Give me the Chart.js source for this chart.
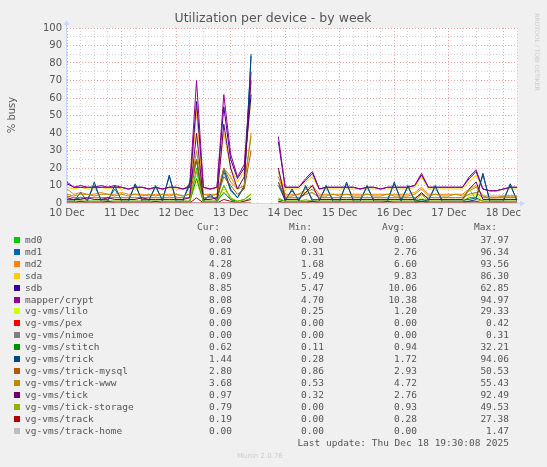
<!DOCTYPE html>
<html><head><meta charset="utf-8">
<script src="https://cdn.jsdelivr.net/npm/chart.js@4"></script>
<style>
body{margin:0;background:#f0f0f0;width:547px;height:467px;overflow:hidden;position:relative;font-family:'DejaVu Sans Mono',monospace;}
#wrap{position:absolute;left:0;top:0;width:547px;height:225px;}
.t{position:absolute;font-size:9.5px;color:#555;white-space:pre;line-height:12px;}
.r{text-align:right;}
.sq{position:absolute;width:6px;height:6px;}
</style></head><body>
<div id="wrap"><canvas id="c" width="547" height="225"></canvas></div>
<div id="leg"></div>
<script>
// sample times: days after 10 Dec 00:00, every 3 hours
const step = 0.125;
const names = ["md0","md1","md2","sda","sdb","mapper/crypt","vg-vms/lilo","vg-vms/pex","vg-vms/nimoe","vg-vms/stitch","vg-vms/trick","vg-vms/trick-mysql","vg-vms/trick-www","vg-vms/tick","vg-vms/tick-storage","vg-vms/track","vg-vms/track-home"];
const colors = ["#00CC00","#0066B3","#FF8000","#FFCC00","#330099","#990099","#CCFF00","#FF0000","#808080","#008F00","#00487D","#B35A00","#B38F00","#6B006B","#8FB300","#B30000","#BEBEBE"];
const curV = ["0.00","0.81","4.28","8.09","8.85","8.08","0.69","0.00","0.00","0.62","1.44","2.80","3.68","0.97","0.79","0.19","0.00"];
const minV = ["0.00","0.31","1.68","5.49","5.47","4.70","0.25","0.00","0.00","0.11","0.28","0.86","0.53","0.32","0.00","0.00","0.00"];
const avgV = ["0.06","2.76","6.60","9.83","10.06","10.38","1.20","0.00","0.00","0.94","1.72","2.93","4.72","2.76","0.93","0.28","0.00"];
const maxV = ["37.97","96.34","93.56","86.30","62.85","94.97","29.33","0.42","0.31","32.21","94.06","50.53","55.43","92.49","49.53","27.38","1.47"];
const dayLabels = ["10 Dec","11 Dec","12 Dec","13 Dec","14 Dec","15 Dec","16 Dec","17 Dec","18 Dec"];
const N=null;
const md0=[0,0,0,0,0,0,0,0,0,0, 0,0,0,0,0,0,0,0,0,20, 0,0,0,10,2,0,1,3,N,N, N,1,0,0,0,0,0,0,0,0, 0,0,0,0,0,0,0,0,0,0, 0,0,0,0,0,0,0,0,0,0, 0,0,0,0,0,0,0];
const md1=[2,2,3,2,10,2,2,8,2,2, 10,2,2,9,2,15,2,2,10,24, 2,4,2,18,7,3,9,84,N,N, N,10,2,7,2,9,2,2,9,2, 2,11,2,2,9,2,2,2,11,2, 9,2,2,2,9,2,2,2,2,2, 3,16,2,2,2,10,2];
const md2=[8,5,6,5,5,6,5,5,6,5, 5,5,4,5,5,5,5,4,5,54, 5,5,5,20,15,8,10,40,N,N, N,18,5,5,5,8,10,5,5,5, 5,5,5,5,5,5,5,5,5,5, 5,6,9,5,5,5,5,5,5,8, 10,4,4,4,4,4,4];
const sda=[9,8,9,8,8,9,8,9,8,8, 8,9,8,8,8,8,8,8,9,53, 8,8,8,40,20,12,18,60,N,N, N,18,8,8,8,12,15,8,8,8, 8,8,8,8,8,8,8,8,8,8, 8,9,15,8,8,8,8,8,8,12, 16,8,7,7,8,8,8];
const sdb=[11,9,9,9,9,9,9,9,9,8, 9,9,8,9,8,9,9,8,9,58, 9,8,9,55,25,14,20,62,N,N, N,35,9,9,9,13,17,8,9,9, 9,9,9,8,9,9,8,9,9,9, 9,10,16,9,9,9,9,9,9,14, 18,8,7,7,8,9,9];
const crypt=[12,9,10,9,9,10,9,10,9,8, 9,9,8,9,8,9,9,8,10,70, 9,8,9,62,28,15,22,75,N,N, N,38,9,9,9,14,18,8,9,9, 9,9,9,8,9,9,8,9,9,9, 9,10,17,9,9,9,9,9,9,15, 19,8,7,7,8,9,9];
const lilo=[1,1,1,1,1,1,1,1,1,1, 1,1,1,1,1,1,1,1,1,12, 1,1,1,8,3,1,2,6,N,N, N,2,1,1,1,1,1,1,1,1, 1,1,1,1,1,1,1,1,1,1, 1,1,3,1,1,1,1,1,1,4, 5,1,1,1,1,1,1];
const pex=[0,0,0,0,0,0,0,0,0,0, 0,0,0,0,0,0,0,0,0,0, 0,0,0,0,0,0,0,0,N,N, N,0,0,0,0,0,0,0,0,0, 0,0,0,0,0,0,0,0,0,0, 0,0,0,0,0,0,0,0,0,0, 0,0,0,0,0,0,0];
const nimoe=[0,0,0,0,0,0,0,0,0,0, 0,0,0,0,0,0,0,0,0,0, 0,0,0,0,0,0,0,0,N,N, N,0,0,0,0,0,0,0,0,0, 0,0,0,0,0,0,0,0,0,0, 0,0,0,0,0,0,0,0,0,0, 0,0,0,0,0,0,0];
const stitch=[1,1,1,1,1,1,1,1,1,1, 1,1,1,1,1,1,1,1,1,14, 1,1,1,6,2,1,2,5,N,N, N,2,1,1,1,1,1,1,1,1, 1,1,1,1,1,1,1,1,1,1, 1,1,2,1,1,1,1,1,1,3, 3,1,1,1,1,1,1];
const trick=[1,1,6,1,12,1,1,10,1,1, 11,1,1,10,1,16,1,1,12,25, 1,5,1,20,8,3,10,85,N,N, N,12,1,8,1,10,1,1,10,1, 1,12,1,1,10,1,1,1,12,1, 10,1,1,1,10,1,1,1,1,1, 2,17,1,1,1,11,1];
const mysql=[4,3,3,3,3,3,3,3,3,3, 3,3,3,3,3,3,3,3,3,25, 3,3,3,15,10,5,8,30,N,N, N,12,3,3,3,5,6,3,3,3, 3,3,3,3,3,3,3,3,3,3, 3,3,5,3,3,3,3,3,3,5, 6,3,3,3,3,3,3];
const www=[5,4,5,5,4,5,5,4,5,4, 5,4,5,4,5,4,5,4,5,30, 5,4,5,20,12,8,10,38,N,N, N,15,4,4,5,6,8,4,4,5, 4,5,4,4,5,4,4,5,4,4, 4,5,8,4,5,4,4,5,4,7, 9,4,3,3,4,4,4];
const tick=[3,2,2,3,2,2,3,2,2,2, 2,3,2,2,2,2,2,2,3,40, 2,2,3,45,20,8,15,70,N,N, N,20,2,2,2,6,10,2,2,2, 2,2,2,2,2,2,2,2,2,2, 2,2,6,2,2,2,2,2,2,8, 12,2,2,2,2,2,2];
const tstor=[1,1,1,1,1,1,1,1,1,1, 1,1,1,1,1,1,1,1,1,18, 1,1,1,10,3,1,2,5,N,N, N,3,1,1,1,2,1,1,1,1, 1,1,1,1,1,1,1,1,1,1, 1,1,5,1,1,1,1,1,1,8, 2,1,1,1,1,1,1];
const track=[0,0,1,0,0,0,1,0,0,0, 0,0,0,1,0,0,0,0,0,3, 0,0,0,2,1,0,1,2,N,N, N,1,0,0,0,0,1,0,0,0, 0,0,0,0,0,0,0,1,0,0, 0,0,1,0,0,0,0,0,0,1, 1,0,0,0,0,0,0];
const thome=[0,0,0,0,0,0,0,0,0,0, 0,0,0,0,0,0,0,0,0,0, 0,0,0,0,0,0,0,0,N,N, N,0,0,0,0,0,0,0,0,0, 0,0,0,0,0,0,0,0,0,0, 0,0,0,0,0,0,0,0,0,0, 0,0,0,0,0,0,0];
const series=[md0,md1,md2,sda,sdb,crypt,lilo,pex,nimoe,stitch,trick,mysql,www,tick,tstor,track,thome];

const datasets = series.map((arr,i)=>({
  label:names[i], borderColor:colors[i], backgroundColor:colors[i], borderWidth:1,
  pointRadius:0, tension:0, spanGaps:false, order:-i,
  data:arr.map((v,j)=>({x:j*step,y:v}))
}));

const deco={id:'deco',afterDraw(ch){
  const c=ch.ctx, a=ch.chartArea;
  c.save();
  c.fillStyle='#555'; c.font='12.5px "DejaVu Sans"'; c.textAlign='center'; c.textBaseline='middle';
  c.fillText('Utilization per device - by week',273,19);
  c.font='10px "DejaVu Sans"';
  c.translate(12,115); c.rotate(-Math.PI/2); c.fillText('% busy',0,0);
  c.restore(); c.save();
  c.fillStyle='#ccc'; c.font='6px "DejaVu Sans"'; c.textAlign='center'; c.textBaseline='middle';
  c.translate(537,52); c.rotate(Math.PI/2); c.fillText('RRDTOOL / TOBI OETIKER',0,0);
  c.restore(); c.save();
  c.strokeStyle='#ccd5ff'; c.lineWidth=1; c.beginPath();
  c.moveTo(a.left-0.5,a.bottom+0.5); c.lineTo(a.right+4,a.bottom+0.5);
  c.moveTo(a.left-0.5,a.bottom+0.5); c.lineTo(a.left-0.5,a.top-4); c.stroke();
  c.fillStyle='#ccd5ff'; c.beginPath();
  c.moveTo(a.right+8,a.bottom+0.5); c.lineTo(a.right+3,a.bottom-2.5); c.lineTo(a.right+3,a.bottom+3.5); c.fill();
  c.beginPath(); c.moveTo(a.left-0.5,a.top-8); c.lineTo(a.left-3.5,a.top-3); c.lineTo(a.left+2.5,a.top-3); c.fill();
  c.restore();
}};
const bgp={id:'bgp',beforeDraw(ch){const a=ch.chartArea,c=ch.ctx;c.save();c.fillStyle='#fff';c.fillRect(a.left,a.top,a.right-a.left,a.bottom-a.top);c.restore();}};

new Chart(document.getElementById('c'),{
  type:'line', data:{datasets},
  plugins:[bgp,deco],
  options:{
    responsive:false, animation:false, devicePixelRatio:1,
    layout:{padding:{top:28,right:30,left:0,bottom:0}},
    plugins:{legend:{display:false},tooltip:{enabled:false},title:{display:false}},
    scales:{
      x:{type:'linear',min:0,max:8.25,
        afterFit(s){s.height=22;},
        border:{display:false,dash:[1,2]},
        grid:{drawTicks:false,lineWidth:1,
          color:ctx=>Number.isInteger(ctx.tick.value)?'rgba(240,140,140,0.8)':'rgba(190,190,190,0.7)'},
        ticks:{stepSize:0.25,autoSkip:false,maxRotation:0,padding:4,color:'#555',font:{family:'DejaVu Sans',size:10},
          callback:v=>Number.isInteger(v)&&v<dayLabels.length?dayLabels[v]:''}},
      y:{min:0,max:100,
        afterFit(s){s.width=67;},
        border:{display:false,dash:[1,2]},
        grid:{drawTicks:false,lineWidth:1,
          color:ctx=>ctx.tick.value%10===0?'rgba(240,140,140,0.8)':'rgba(190,190,190,0.7)'},
        ticks:{stepSize:5,autoSkip:false,padding:5,color:'#555',font:{family:'DejaVu Sans',size:10},
          callback:v=>v%10===0?String(v):''}}
    }
  }
});

// legend
const leg=document.getElementById('leg');
function txt(s,x,y,right,extra){const d=document.createElement('div');d.className='t'+(right?' r':'');d.textContent=s;
  d.style.top=(y-6)+'px'; if(right){d.style.right=(547-x)+'px';}else{d.style.left=x+'px';}
  if(extra)Object.assign(d.style,extra); leg.appendChild(d);}
txt('Cur:',220,227,true); txt('Min:',312,227,true); txt('Avg:',405,227,true); txt('Max:',497,227,true);
names.forEach((n,i)=>{
  const y=239.7+i*11.96;
  const q=document.createElement('div');q.className='sq';q.style.left='14px';q.style.top=(y-3)+'px';q.style.background=colors[i];leg.appendChild(q);
  txt(n,25,y,false); txt(curV[i],232,y,true); txt(minV[i],324,y,true); txt(avgV[i],417,y,true); txt(maxV[i],509,y,true);
});
txt('Last update: Thu Dec 18 19:30:08 2025',509,443,true);
txt('Munin 2.0.76',237,456,false,{color:'#ccc',fontSize:'7px',fontFamily:'DejaVu Sans'});
</script>
</body></html>
